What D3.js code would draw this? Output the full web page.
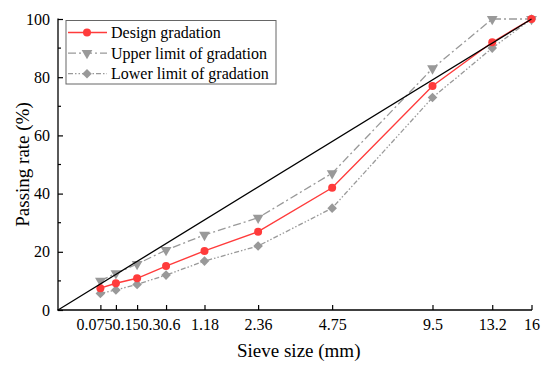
<!DOCTYPE html>
<html><head><meta charset="utf-8">
<script src="https://cdn.jsdelivr.net/npm/d3@7"></script>
<style>body{margin:0;background:#fff}svg{display:block}</style>
</head><body><svg id="c" width="550" height="368"></svg>
<script>
const sieves = [0.075, 0.15, 0.3, 0.6, 1.18, 2.36, 4.75, 9.5, 13.2, 16];
const tickLabels = ["0.075","0.15","0.3","0.6","1.18","2.36","4.75","9.5","13.2","16"];
const design = [7.5, 9.2, 10.9, 15.1, 20.3, 26.9, 42, 77, 92, 100];
const upper = [10, 12.6, 15.8, 20.6, 25.8, 31.7, 47, 83, 100, 100];
const lower = [5.7, 6.9, 8.8, 12, 16.8, 22, 35, 73, 90, 100];
const maxLine = [[0,0],[16,100]];
const yTicks = [0,20,40,60,80,100];
const yMinor = [10,30,50,70,90];

const FONT = "Liberation Serif";
const svg = d3.select("#c");
const L = 58, R = 531.5, T = 19, B = 310;
const x = d3.scalePow().exponent(0.45).domain([0,16]).range([L,R]);
const y = d3.scaleLinear().domain([0,100]).range([B,T]);

// axes
const xAx = svg.append("g").attr("transform",`translate(0,${B})`)
  .call(d3.axisBottom(x).tickValues(sieves).tickFormat((d,i)=>tickLabels[i]).tickSizeInner(-5).tickSizeOuter(0).tickPadding(9));
xAx.attr("font-family",FONT).attr("font-size",16);
xAx.select(".domain").attr("stroke","#000").attr("stroke-width",1.3).attr("d",`M${L-0.5},0H${R+0.5}`);
xAx.selectAll(".tick line").attr("stroke-width",1.2);
xAx.selectAll("text").attr("fill","#000");

// resolve overlapping small-size labels: chain them leftward from the 0.6 label
const texts = xAx.selectAll(".tick text").nodes();
const widths = texts.map(t=>t.getComputedTextLength());
let rightEdge = x(sieves[3]) + widths[3]/2 + 4;
for (let i=3;i>=0;i--){
  const cx = rightEdge - widths[i]/2;
  d3.select(texts[i]).attr("x", cx - x(sieves[i]));
  rightEdge -= widths[i];
}

const yAx = svg.append("g").attr("transform",`translate(${L},0)`)
  .call(d3.axisLeft(y).tickValues(yTicks).tickSizeInner(-5).tickSizeOuter(0).tickPadding(8));
yAx.attr("font-family",FONT).attr("font-size",16);
yAx.select(".domain").attr("stroke","#000").attr("stroke-width",1.3).attr("d",`M0,${B+0.5}V${T-0.5}`);
yAx.selectAll(".tick line").attr("stroke-width",1.2);
yAx.selectAll("text").attr("fill","#000");
svg.append("g").selectAll("line").data(yMinor).join("line")
  .attr("x1",L).attr("x2",L+3).attr("y1",d=>y(d)).attr("y2",d=>y(d)).attr("stroke","#000").attr("stroke-width",1.2);

// axis titles
svg.append("text").attr("x",(L+R)/2+4).attr("y",357).attr("text-anchor","middle")
  .attr("font-family",FONT).attr("font-size",19).text("Sieve size (mm)");
svg.append("text").attr("transform",`translate(29,${(T+B)/2}) rotate(-90)`).attr("text-anchor","middle")
  .attr("font-family",FONT).attr("font-size",19).text("Passing rate (%)");

const line = d3.line().x((d,i)=>x(sieves[i])).y(d=>y(d));
const gray = "#999999", red = "#ff3b3b";
const tri = d3.symbol().type(d3.symbolTriangle).size(50);
const dia = d3.symbol().type(d3.symbolSquare).size(46);

// lower
svg.append("path").attr("d",line(lower)).attr("fill","none").attr("stroke",gray).attr("stroke-width",1.3).attr("stroke-dasharray","5,2,1.5,2,1.5,2");
// upper
svg.append("path").attr("d",line(upper)).attr("fill","none").attr("stroke",gray).attr("stroke-width",1.3).attr("stroke-dasharray","8,3,2,3");
// design
svg.append("path").attr("d",line(design)).attr("fill","none").attr("stroke",red).attr("stroke-width",1.4);

svg.append("g").selectAll("path").data(lower).join("path").attr("d",dia)
  .attr("transform",(d,i)=>`translate(${x(sieves[i])},${y(d)}) rotate(45)`).attr("fill",gray);
svg.append("g").selectAll("path").data(upper).join("path").attr("d",tri)
  .attr("transform",(d,i)=>`translate(${x(sieves[i])},${y(d)}) rotate(180)`).attr("fill",gray);
svg.append("g").selectAll("circle").data(design).join("circle")
  .attr("cx",(d,i)=>x(sieves[i])).attr("cy",d=>y(d)).attr("r",4).attr("fill",red);

// maximum density line
svg.append("path").attr("d",d3.line().x(d=>x(d[0])).y(d=>y(d[1]))(maxLine)).attr("stroke","#000").attr("stroke-width",1.3).attr("fill","none");

// legend
const lg = svg.append("g");
lg.append("rect").attr("x",66).attr("y",20.5).attr("width",210).attr("height",63.5).attr("fill","#fff").attr("stroke","#666").attr("stroke-width",1);
const items = [
  {t:"Design gradation", c:red, dash:null, m:"c"},
  {t:"Upper limit of gradation", c:gray, dash:"8,3,2,3", m:"t"},
  {t:"Lower limit of gradation", c:gray, dash:"5,2,1.5,2,1.5,2", m:"d"}
];
items.forEach((it,i)=>{
  const yy = 32.5 + i*20.6;
  lg.append("line").attr("x1",68).attr("x2",107).attr("y1",yy).attr("y2",yy).attr("stroke",it.c).attr("stroke-width",1.3).attr("stroke-dasharray",it.dash);
  if(it.m==="c") lg.append("circle").attr("cx",87).attr("cy",yy).attr("r",4).attr("fill",red);
  if(it.m==="t") lg.append("path").attr("d",tri).attr("transform",`translate(87,${yy}) rotate(180)`).attr("fill",gray);
  if(it.m==="d") lg.append("path").attr("d",dia).attr("transform",`translate(87,${yy}) rotate(45)`).attr("fill",gray);
  lg.append("text").attr("x",111).attr("y",yy+5.5).attr("font-family",FONT).attr("font-size",16).text(it.t);
});
</script></body></html>
